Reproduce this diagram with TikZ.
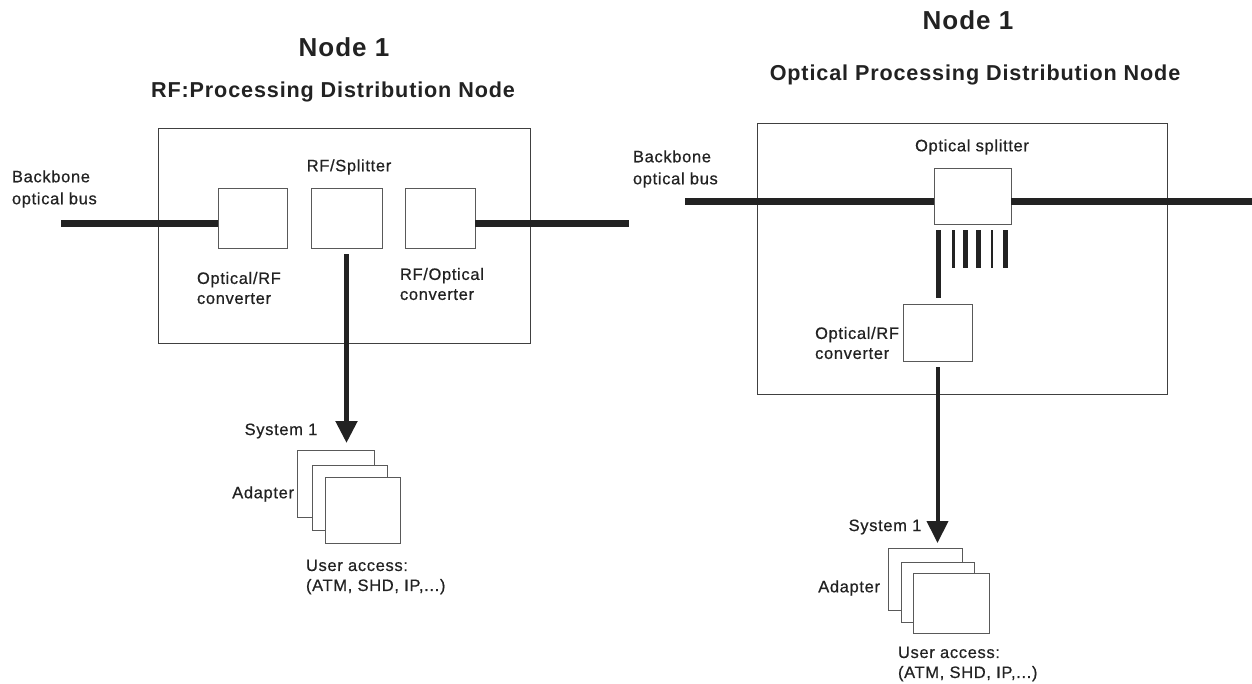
\documentclass[tikz,border=0pt]{standalone}
\usepackage{fontspec}
\setmainfont{Liberation Sans}[LetterSpace=4,FakeBold=0.6]
\newfontfamily\titlefont{Liberation Sans}[LetterSpace=4]
\usetikzlibrary{arrows.meta}
\definecolor{ink}{HTML}{222222}
\begin{document}
\begin{tikzpicture}[x=1pt,y=-1pt,
  every node/.style={inner sep=0pt,outer sep=0pt,text=ink},
  title/.style={font=\titlefont\fontsize{26}{30}\selectfont\bfseries},
  subtitle/.style={font=\titlefont\fontsize{21.6}{26}\selectfont\bfseries},
  lab/.style={font=\fontsize{16.5}{20}\selectfont,align=left},
  bigbox/.style={draw=black!75,line width=1pt},
  smallbox/.style={draw=black!65,line width=1pt,fill=white},
  bus/.style={draw=ink,line width=7pt},
  finger/.style={draw=ink},
  downarrow/.style={draw=ink,-{Triangle[width=21pt,length=22pt]}}
]
\useasboundingbox (0,0) rectangle (1252,683);

%% ===================== LEFT: RF processing node =====================
\node[title] (nodeL) at (344,47) {Node 1};
\node[subtitle] (subL) at (333,92) {RF:Processing Distribution Node};
\node[bigbox,minimum width=372pt,minimum height=215pt] (bigL) at (344,235.5) {};

\node[smallbox,minimum width=69pt,minimum height=60pt] (oeL) at (252.5,218) {};
\node[smallbox,minimum width=71pt,minimum height=60pt] (splL) at (346.5,218) {};
\node[smallbox,minimum width=70pt,minimum height=60pt] (eoL) at (440,218) {};

\node[lab,anchor=west] (bbL) at (12,189) {Backbone\\[2pt]optical bus};
\node[lab] (splLlab) at (349,167) {RF/Splitter};
\node[lab,anchor=west] (oeLlab) at (197,288) {Optical/RF\\converter};
\node[lab,anchor=west] (eoLlab) at (400,284) {RF/Optical\\converter};

\coordinate (busLin) at (61,223);
\coordinate (busLout) at (629,223);
\draw[bus] (busLin) -- (busLin -| oeL.west);
\draw[bus] (busLin -| eoL.east) -- (busLout);

% adapter stack
\node[smallbox,minimum width=77pt,minimum height=67pt] (adLa) at (335.5,483.5) {};
\node[smallbox,minimum width=75pt,minimum height=65pt] (adLb) at (349.5,497.5) {};
\node[smallbox,minimum width=75pt,minimum height=66pt] (adLc) at (362.5,510) {};

\draw[downarrow,line width=5pt] ([yshift=-6pt]splL.south) -- ([yshift=7pt]splL.south |- adLa.north);

\node[lab] (sysL) at (281,431) {System 1};
\node[lab,anchor=east] (adapL) at (294,494) {Adapter};
\node[lab,anchor=west] (uaL) at (306,577) {User access:\\(ATM, SHD, IP,...)};

%% ===================== RIGHT: Optical processing node =====================
\node[title] (nodeR) at (968,20) {Node 1};
\node[subtitle] (subR) at (975,75) {Optical Processing Distribution Node};
\node[bigbox,minimum width=410pt,minimum height=271pt] (bigR) at (962,258.5) {};

\node[smallbox,minimum width=77pt,minimum height=56pt] (splR) at (972.5,196) {};
\node[lab] (splRlab) at (972,147) {Optical splitter};
\node[lab,anchor=west] (bbR) at (633,169) {Backbone\\[2pt]optical bus};

\coordinate (busRin) at (685,201);
\coordinate (busRout) at (1252,201);
\draw[bus] (busRin) -- (busRin -| splR.west);
\draw[bus] (busRin -| splR.east) -- (busRout);

% splitter outputs
\node[smallbox,minimum width=69pt,minimum height=57pt] (oeR) at (937.5,332.5) {};
\coordinate (f0) at (938.5,230);
\draw[finger,line width=5pt] (f0) -- ([yshift=6pt]f0 |- oeR.north);
\draw[finger,line width=3pt] (953,230) -- (953,268);
\draw[finger,line width=5pt] (965.5,230) -- (965.5,268);
\draw[finger,line width=5pt] (978.5,230) -- (978.5,268);
\draw[finger,line width=2pt] (992,230) -- (992,268);
\draw[finger,line width=5pt] (1005.5,230) -- (1005.5,268);

\node[lab,anchor=east] (oeRlab) at (899,343) {Optical/RF\\converter};

% adapter stack
\node[smallbox,minimum width=74pt,minimum height=62pt] (adRa) at (925,579) {};
\node[smallbox,minimum width=73pt,minimum height=60pt] (adRb) at (937.5,592) {};
\node[smallbox,minimum width=76pt,minimum height=60pt] (adRc) at (951,603) {};

\draw[downarrow,line width=4pt] ([yshift=-6pt]oeR.south) -- ([yshift=5pt]oeR.south |- adRa.north);

\node[lab] (sysR) at (885,527) {System 1};
\node[lab,anchor=east] (adapR) at (880,588) {Adapter};
\node[lab,anchor=west] (uaR) at (898,664) {User access:\\(ATM, SHD, IP,...)};
\end{tikzpicture}
\end{document}
